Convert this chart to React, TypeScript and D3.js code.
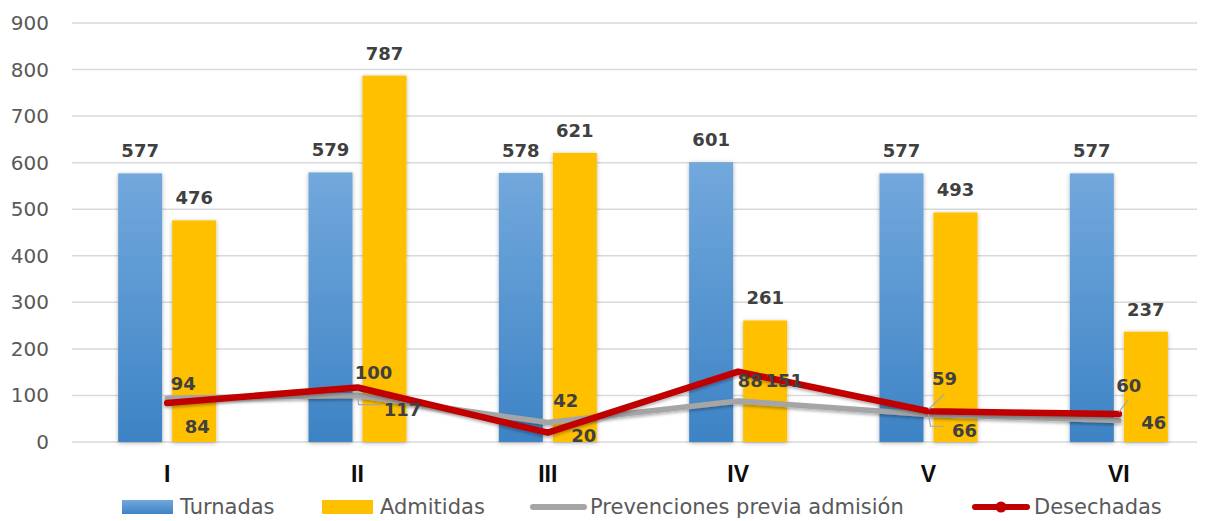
import * as d3 from "d3";

const categories = ["I", "II", "III", "IV", "V", "VI"];
const turnadas = [577, 579, 578, 601, 577, 577];
const admitidas = [476, 787, 621, 261, 493, 237];
const prevenciones = [94, 100, 42, 88, 59, 46];
const desechadas = [84, 117, 20, 151, 66, 60];
const yTicks = [0, 100, 200, 300, 400, 500, 600, 700, 800, 900];

// label placement (text centre / baseline relative to the point)
const prevLabelOffsets: [number, number][] = [
  [16, -8], [16, -16], [18, -15], [12, -14], [16, -30], [35, 8],
];
const desLabelOffsets: [number, number][] = [
  [30, 30], [45, 28], [36, 9], [46, 15], [36, 26], [10, -22],
];

const W = 1205;
const H = 521;
const FONT = "'DejaVu Sans', sans-serif";

export default function App() {
  const x = d3
    .scaleBand<string>()
    .domain(categories)
    .range([72, 1214])
    .paddingInner(0.485)
    .paddingOuter(0.2425);
  const center = (c: string) => (x(c) || 0) + x.bandwidth() / 2;
  const sub = d3
    .scaleBand<string>()
    .domain(["t", "a"])
    .range([0, x.bandwidth()])
    .paddingInner(0.185);
  const y = d3.scaleLinear().domain([0, 900]).range([442, 23]);

  const line = d3
    .line<number>()
    .x((_, i) => center(categories[i]))
    .y((d) => y(d));

  const legendY = 507;

  return (
    <svg
      width={W}
      height={H}
      style={{ position: "absolute", left: 0, top: 0, background: "#fff" }}
      fontFamily={FONT}
    >
      <defs>
        <linearGradient id="blueGrad" x1="0" y1="0" x2="0" y2="1">
          <stop offset="0%" stopColor="#72a8dc" />
          <stop offset="100%" stopColor="#3d83c5" />
        </linearGradient>
        <filter id="shadow" x="-30%" y="-10%" width="160%" height="120%">
          <feDropShadow dx="0" dy="1" stdDeviation="2" floodColor="#000" floodOpacity="0.3" />
        </filter>
        <filter id="lineShadow" x="-5%" y="-50%" width="110%" height="200%">
          <feDropShadow dx="0" dy="2" stdDeviation="1.5" floodColor="#000" floodOpacity="0.3" />
        </filter>
      </defs>

      {/* grid */}
      {yTicks.map((t) => (
        <g key={t}>
          <line x1={72} x2={1197} y1={y(t)} y2={y(t)} stroke="#d9d9d9" strokeWidth={1.5} />
          <text
            x={49}
            y={y(t)}
            textAnchor="end"
            dominantBaseline="central"
            fontSize={20}
            fill="#595959"
          >
            {t}
          </text>
        </g>
      ))}

      {/* bars */}
      {categories.map((c, i) => {
        const x0 = x(c) || 0;
        return (
          <g key={c} filter="url(#shadow)">
            <rect
              x={x0 + (sub("t") || 0)}
              y={y(turnadas[i])}
              width={sub.bandwidth()}
              height={y(0) - y(turnadas[i])}
              fill="url(#blueGrad)"
            />
            <rect
              x={x0 + (sub("a") || 0)}
              y={y(admitidas[i])}
              width={sub.bandwidth()}
              height={y(0) - y(admitidas[i])}
              fill="#ffc000"
            />
          </g>
        );
      })}

      {/* bar labels */}
      {categories.map((c, i) => {
        const x0 = x(c) || 0;
        return (
          <g key={c} fontSize={18} fontWeight="bold" fill="#404040" textAnchor="middle">
            <text x={x0 + (sub("t") || 0) + sub.bandwidth() / 2} y={y(turnadas[i]) - 16}>
              {turnadas[i]}
            </text>
            <text x={x0 + (sub("a") || 0) + sub.bandwidth() / 2} y={y(admitidas[i]) - 16}>
              {admitidas[i]}
            </text>
          </g>
        );
      })}

      {/* lines */}
      <path
        d={line(prevenciones) || ""}
        fill="none"
        stroke="#a5a5a5"
        strokeWidth={5.5}
        strokeLinejoin="round"
        strokeLinecap="round"
        filter="url(#lineShadow)"
      />
      <path
        d={line(desechadas) || ""}
        fill="none"
        stroke="#c00000"
        strokeWidth={6.5}
        strokeLinejoin="round"
        strokeLinecap="round"
        filter="url(#lineShadow)"
      />

      {/* leader lines */}
      <g stroke="#a6a6a6" strokeWidth={1.2} fill="none">
        <polyline
          points={`${center("II")},${y(117) + 3} ${center("II") + 1},${y(117) + 17} ${center("II") + 24},${y(117) + 17}`}
        />
        <line x1={center("V")} y1={y(66) - 2} x2={center("V") + 16} y2={y(66) - 17} />
        <polyline
          points={`${center("V")},${y(66) + 3} ${center("V") + 2},${y(66) + 15} ${center("V") + 15},${y(66) + 15}`}
        />
        <line x1={center("VI")} y1={y(60) - 2} x2={center("VI") + 9} y2={y(60) - 14} />
      </g>

      {/* line labels */}
      <g fontSize={18} fontWeight="bold" fill="#404040" textAnchor="middle">
        {categories.map((c, i) => (
          <text
            key={"p" + c}
            x={center(c) + prevLabelOffsets[i][0]}
            y={y(prevenciones[i]) + prevLabelOffsets[i][1]}
          >
            {prevenciones[i]}
          </text>
        ))}
        {categories.map((c, i) => (
          <text
            key={"d" + c}
            x={center(c) + desLabelOffsets[i][0]}
            y={y(desechadas[i]) + desLabelOffsets[i][1]}
          >
            {desechadas[i]}
          </text>
        ))}
      </g>

      {/* x axis labels */}
      {categories.map((c) => (
        <text
          key={c}
          x={center(c)}
          y={482}
          textAnchor="middle"
          fontFamily="'Liberation Sans', Arial, sans-serif"
          fontWeight="bold"
          fontSize={23}
          fill="#0d0d0d"
        >
          {c}
        </text>
      ))}

      {/* legend */}
      <g fontSize={21} fill="#595959" dominantBaseline="central">
        <rect x={122} y={legendY - 7} width={51} height={14} fill="url(#blueGrad)" />
        <text x={180} y={legendY}>Turnadas</text>
        <rect x={322} y={legendY - 7} width={51} height={14} fill="#ffc000" />
        <text x={380} y={legendY}>Admitidas</text>
        <line
          x1={533}
          x2={584}
          y1={legendY}
          y2={legendY}
          stroke="#a5a5a5"
          strokeWidth={6}
          strokeLinecap="round"
        />
        <text x={590} y={legendY}>Prevenciones previa admisión</text>
        <line
          x1={975}
          x2={1027}
          y1={legendY}
          y2={legendY}
          stroke="#c00000"
          strokeWidth={6}
          strokeLinecap="round"
        />
        <circle cx={1001} cy={legendY} r={5.5} fill="#c00000" />
        <text x={1034} y={legendY}>Desechadas</text>
      </g>
    </svg>
  );
}
